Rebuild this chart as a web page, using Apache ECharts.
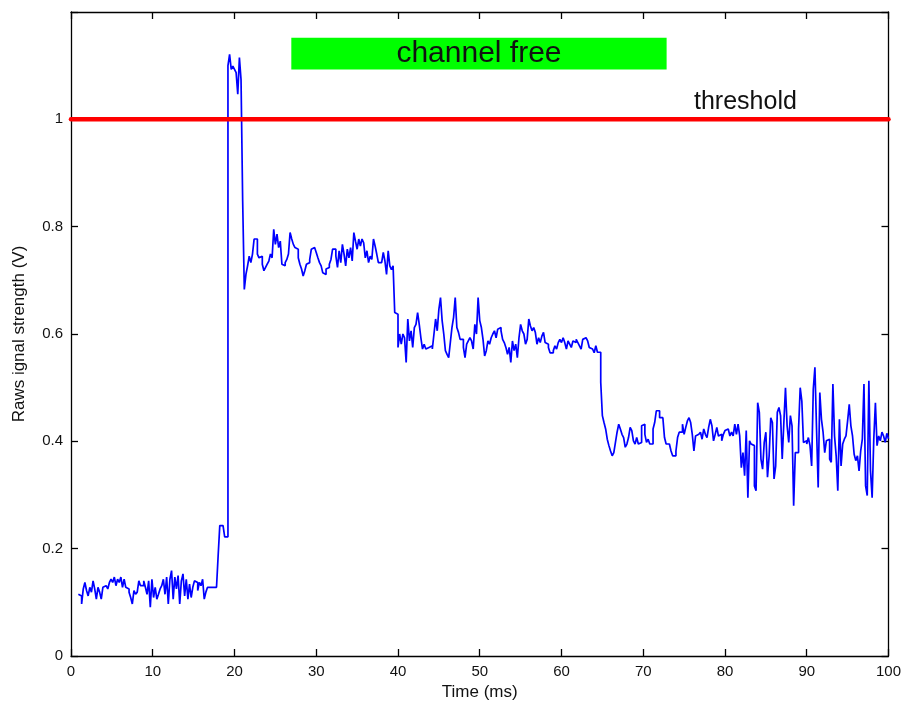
<!DOCTYPE html>
<html>
<head>
<meta charset="utf-8">
<script src="https://cdn.jsdelivr.net/npm/echarts@6/dist/echarts.min.js"></script>
<style>
  html, body { margin: 0; padding: 0; background: #fff; }
  #chart { width: 904px; height: 706px; }
</style>
</head>
<body>
<div id="chart"></div>
<script>
// sampled trace, one array per stretch of the recording (values in V)
const sampleStep = 0.2; // ms
const segmentStarts = [0.9, 17.8, 21.2, 39.8, 64.8, 82.0];

const baseline = [
  0.115, 0.112, 0.097, 0.125, 0.137, 0.122, 0.112, 0.128, 0.119, 0.140,
  0.125, 0.106, 0.128, 0.119, 0.106, 0.128, 0.131, 0.134, 0.125, 0.137,
  0.143, 0.137, 0.147, 0.131, 0.143, 0.137, 0.147, 0.128, 0.143, 0.128,
  0.125, 0.119, 0.109, 0.097, 0.122, 0.115, 0.119, 0.140, 0.131, 0.131,
  0.140, 0.128, 0.115, 0.140, 0.091, 0.143, 0.109, 0.128, 0.106, 0.115,
  0.125, 0.131, 0.143, 0.115, 0.147, 0.097, 0.143, 0.159, 0.106, 0.147,
  0.125, 0.150, 0.097, 0.140, 0.153, 0.112, 0.143, 0.106, 0.134, 0.109,
  0.128, 0.140, 0.137, 0.122, 0.137, 0.131, 0.143, 0.106, 0.119, 0.128,
  0.128, 0.131, 0.128, 0.128
];
const burst = [
  0.128, 0.187, 0.243, 0.243, 0.243, 0.222, 0.222, 1.100, 1.121, 1.093,
  1.099, 1.093, 1.087, 1.047, 1.115, 1.074, 0.848
];
const busyA = [
  0.683, 0.711, 0.727, 0.745, 0.733, 0.749, 0.777, 0.777, 0.749, 0.742,
  0.745, 0.730, 0.718, 0.724, 0.730, 0.736, 0.749, 0.742, 0.795, 0.767,
  0.786, 0.761, 0.773, 0.730, 0.727, 0.733, 0.739, 0.749, 0.789, 0.777,
  0.767, 0.761, 0.758, 0.742, 0.730, 0.721, 0.708, 0.718, 0.730, 0.733,
  0.739, 0.758, 0.761, 0.758, 0.752, 0.742, 0.733, 0.727, 0.714, 0.711,
  0.721, 0.724, 0.730, 0.739, 0.758, 0.758, 0.745, 0.724, 0.755, 0.733,
  0.767, 0.749, 0.727, 0.758, 0.742, 0.761, 0.736, 0.789, 0.773, 0.758,
  0.777, 0.764, 0.777, 0.770, 0.742, 0.755, 0.733, 0.745, 0.739, 0.777,
  0.764, 0.749, 0.733, 0.733, 0.736, 0.752, 0.736, 0.711, 0.755, 0.727,
  0.720, 0.727, 0.640
];
const busyB = [
  0.637, 0.575, 0.600, 0.581, 0.600, 0.593, 0.547, 0.628, 0.587, 0.606,
  0.575, 0.612, 0.618, 0.640, 0.618, 0.593, 0.572, 0.581, 0.572, 0.575,
  0.572, 0.578, 0.572, 0.600, 0.628, 0.606, 0.646, 0.668, 0.625, 0.600,
  0.569, 0.562, 0.556, 0.584, 0.612, 0.631, 0.668, 0.612, 0.603, 0.590,
  0.590, 0.575, 0.556, 0.581, 0.587, 0.593, 0.587, 0.572, 0.618, 0.600,
  0.668, 0.625, 0.612, 0.590, 0.559, 0.569, 0.587, 0.581, 0.593, 0.600,
  0.606, 0.593, 0.609, 0.612, 0.606, 0.590, 0.584, 0.575, 0.562, 0.575,
  0.547, 0.587, 0.569, 0.581, 0.556, 0.593, 0.618, 0.606, 0.600, 0.581,
  0.590, 0.628, 0.615, 0.606, 0.612, 0.603, 0.581, 0.593, 0.584, 0.596,
  0.603, 0.584, 0.581, 0.575, 0.565, 0.565, 0.569, 0.578, 0.572, 0.584,
  0.590, 0.584, 0.593, 0.584, 0.572, 0.587, 0.581, 0.575, 0.587, 0.584,
  0.590, 0.584, 0.578, 0.572, 0.590, 0.593, 0.593, 0.587, 0.575, 0.572,
  0.569, 0.565, 0.578, 0.566
];
const idleA = [
  0.510, 0.448, 0.435, 0.423, 0.404, 0.392, 0.382, 0.373, 0.379, 0.398,
  0.417, 0.432, 0.423, 0.413, 0.407, 0.389, 0.395, 0.407, 0.426, 0.420,
  0.401, 0.395, 0.407, 0.395, 0.398, 0.429, 0.432, 0.413, 0.398, 0.404,
  0.395, 0.395, 0.423, 0.435, 0.457, 0.457, 0.444, 0.444, 0.444, 0.407,
  0.395, 0.395, 0.392, 0.382, 0.373, 0.373, 0.382, 0.407, 0.417, 0.417,
  0.432, 0.413, 0.426, 0.438, 0.444, 0.435, 0.413, 0.382, 0.410, 0.413,
  0.410, 0.417, 0.404, 0.423, 0.413, 0.407, 0.426, 0.441, 0.429, 0.401,
  0.413, 0.426, 0.410, 0.413, 0.401, 0.413, 0.420, 0.423, 0.426, 0.410,
  0.417, 0.410, 0.432, 0.413, 0.432, 0.410
];
const idleB = [
  0.351, 0.379, 0.336, 0.420, 0.295, 0.401, 0.395, 0.392, 0.317, 0.308,
  0.472, 0.454, 0.367, 0.348, 0.398, 0.417, 0.333, 0.373, 0.444, 0.435,
  0.330, 0.354, 0.454, 0.463, 0.448, 0.367, 0.435, 0.500, 0.429, 0.398,
  0.448, 0.429, 0.280, 0.379, 0.379, 0.423, 0.500, 0.475, 0.398, 0.401,
  0.395, 0.407, 0.392, 0.354, 0.497, 0.538, 0.423, 0.314, 0.491, 0.441,
  0.417, 0.379, 0.401, 0.404, 0.367, 0.361, 0.507, 0.410, 0.373, 0.308,
  0.441, 0.354, 0.395, 0.404, 0.410, 0.438, 0.469, 0.429, 0.410, 0.376,
  0.364, 0.373, 0.345, 0.382, 0.404, 0.507, 0.317, 0.299, 0.513, 0.345,
  0.295, 0.404, 0.472, 0.392, 0.410, 0.401, 0.417, 0.410, 0.398, 0.415,
  0.405
];

const thresholdValue = 1;
const thresholdSpan = [0, 100];
const thresholdLabelAt = [82.5, 1.032];
const freeWindow = [26.95, 72.86]; // ms
const freeBand = [1.093, 1.152];   // V

const segments = [baseline, burst, busyA, busyB, idleA, idleB];
const trace = [];
segments.forEach((vals, i) => {
  vals.forEach((v, j) => {
    trace.push([+(segmentStarts[i] + j * sampleStep).toFixed(2), v]);
  });
});

const font = "Liberation Sans, Arial, sans-serif";
const ink = "#111";

// frame axes: same scale, ticks pointing in, line not pinned to zero
const frameLine = { onZero: false, lineStyle: { color: "#000", width: 1.3 } };
const frameTick = { show: true, inside: true, length: 7, lineStyle: { color: "#000", width: 1.3 } };

const chart = echarts.init(document.getElementById("chart"));
chart.setOption({
  animation: false,
  grid: { left: 71, right: 14, top: 12, bottom: 49 },
  xAxis: [
    {
      type: "value",
      position: "bottom",
      min: 0,
      max: 100,
      interval: 10,
      name: "Time (ms)",
      nameLocation: "middle",
      nameGap: 28,
      nameTextStyle: { fontFamily: font, fontSize: 17, color: ink },
      axisLine: frameLine,
      axisTick: frameTick,
      axisLabel: { fontFamily: font, fontSize: 15, color: ink, margin: 8 },
      splitLine: { show: false },
    },
    {
      type: "value",
      position: "top",
      min: 0,
      max: 100,
      interval: 10,
      axisLine: frameLine,
      axisTick: frameTick,
      axisLabel: { show: false },
      splitLine: { show: false },
    },
  ],
  yAxis: [
    {
      type: "value",
      position: "left",
      min: 0,
      max: 1.2,
      interval: 0.2,
      name: "Raws ignal strength (V)",
      nameLocation: "middle",
      nameGap: 43,
      nameTextStyle: { fontFamily: font, fontSize: 17, color: ink },
      axisLine: { show: true, ...frameLine },
      axisTick: frameTick,
      axisLabel: {
        fontFamily: font,
        fontSize: 15,
        color: ink,
        margin: 8,
        formatter: (v) => (v > 1.1 ? "" : String(+v.toFixed(1))),
      },
      splitLine: { show: false },
    },
    {
      type: "value",
      position: "right",
      min: 0,
      max: 1.2,
      interval: 0.2,
      axisLine: { show: true, ...frameLine },
      axisTick: frameTick,
      axisLabel: { show: false },
      splitLine: { show: false },
    },
  ],
  series: [
    {
      name: "signal",
      type: "line",
      step: "end",
      data: trace,
      showSymbol: false,
      lineStyle: { color: "#0000ff", width: 1.7 },
      z: 2,
      markArea: {
        silent: true,
        itemStyle: { color: "#00ff00", opacity: 1 },
        label: {
          show: true,
          position: "inside",
          formatter: "channel free",
          fontFamily: font,
          fontSize: 30,
          color: "#111",
        },
        data: [[
          { coord: [freeWindow[0], freeBand[0]] },
          { coord: [freeWindow[1], freeBand[1]] },
        ]],
      },
    },
    {
      name: "threshold",
      type: "line",
      data: thresholdSpan.map((x) => [x, thresholdValue]),
      showSymbol: false,
      lineStyle: { color: "#ff0000", width: 4.5, cap: "round" },
      z: 3,
    },
    {
      name: "thresholdLabel",
      type: "scatter",
      data: [thresholdLabelAt],
      symbolSize: 0,
      itemStyle: { opacity: 1 },
      label: {
        show: true,
        position: "inside",
        formatter: "threshold",
        fontFamily: font,
        fontSize: 25,
        color: "#111",
        opacity: 1,
      },
      z: 4,
    },
  ],
});
</script>
</body>
</html>
